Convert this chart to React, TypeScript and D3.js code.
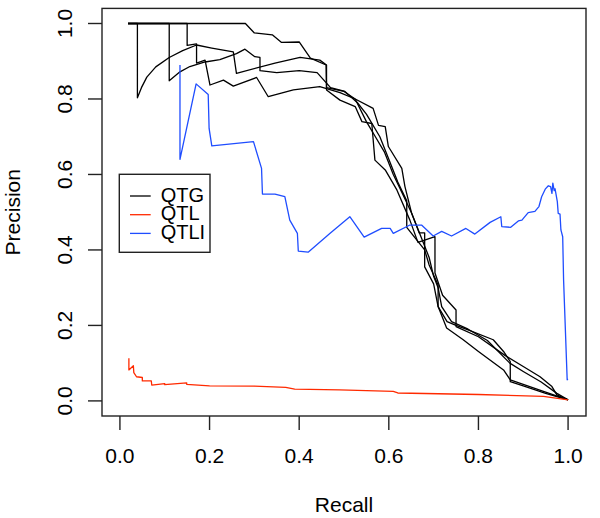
import React from "react";
import * as d3 from "d3";

type Pt = [number, number];

// QTG folds (recall, precision)
const qtg1: Pt[] = [
  [0.018, 1], [0.28, 1], [0.30, 0.975], [0.34, 0.97], [0.36, 0.95], [0.40, 0.951],
  [0.425, 0.908], [0.46, 0.89], [0.461, 0.83], [0.50, 0.82], [0.525, 0.80], [0.565, 0.775],
  [0.577, 0.73], [0.592, 0.727], [0.599, 0.674], [0.629, 0.616], [0.636, 0.568], [0.651, 0.497],
  [0.668, 0.445], [0.68, 0.445], [0.68, 0.355], [0.70, 0.31], [0.71, 0.25], [0.73, 0.21],
  [0.75, 0.20], [0.777, 0.188], [0.833, 0.162], [0.856, 0.131], [0.871, 0.104], [0.871, 0.051],
  [0.90, 0.04], [0.95, 0.02], [1.0, 0.003],
];
const qtg2: Pt[] = [
  [0.018, 1], [0.039, 1], [0.039, 0.803], [0.048, 0.83], [0.06, 0.858], [0.08, 0.885],
  [0.11, 0.91], [0.14, 0.928], [0.171, 0.943], [0.205, 0.935], [0.253, 0.925], [0.26, 0.868],
  [0.346, 0.895], [0.402, 0.91], [0.446, 0.903], [0.461, 0.89], [0.461, 0.824], [0.491, 0.797],
  [0.525, 0.78], [0.54, 0.74], [0.562, 0.735], [0.569, 0.638], [0.592, 0.612], [0.618, 0.559],
  [0.647, 0.479], [0.665, 0.42], [0.703, 0.435], [0.703, 0.339], [0.72, 0.28], [0.75, 0.241],
  [0.75, 0.197], [0.80, 0.17], [0.86, 0.12], [0.90, 0.091], [0.9375, 0.064], [0.964, 0.038],
  [0.975, 0.016], [1.0, 0.003],
];
const qtg3: Pt[] = [
  [0.018, 1], [0.11, 1], [0.11, 0.848], [0.134, 0.872], [0.156, 0.886], [0.19, 0.898],
  [0.223, 0.904], [0.26, 0.92], [0.279, 0.932], [0.301, 0.912], [0.3125, 0.91], [0.3125, 0.875],
  [0.35, 0.87], [0.40, 0.875], [0.44, 0.87], [0.47, 0.83], [0.502, 0.82], [0.53, 0.79],
  [0.55, 0.76], [0.58, 0.70], [0.60, 0.64], [0.62, 0.58], [0.64, 0.53], [0.64, 0.46],
  [0.66, 0.43], [0.68, 0.40], [0.69, 0.36], [0.71, 0.307], [0.71, 0.25], [0.729, 0.193],
  [0.766, 0.162], [0.80, 0.131], [0.856, 0.082], [0.871, 0.056], [0.945, 0.025], [1.0, 0.003],
];
const qtg4: Pt[] = [
  [0.018, 1], [0.15, 1], [0.15, 0.942], [0.171, 0.946], [0.171, 0.895], [0.19, 0.903],
  [0.201, 0.837], [0.231, 0.85], [0.253, 0.834], [0.305, 0.857], [0.331, 0.806], [0.387, 0.824],
  [0.446, 0.833], [0.491, 0.817], [0.525, 0.80], [0.55, 0.74], [0.57, 0.70], [0.59, 0.66],
  [0.61, 0.60], [0.63, 0.55], [0.65, 0.50], [0.67, 0.44], [0.69, 0.38], [0.70, 0.33],
  [0.71, 0.30], [0.718, 0.25], [0.74, 0.21], [0.777, 0.19], [0.82, 0.16], [0.87, 0.10],
  [0.90, 0.078], [0.94, 0.05], [0.975, 0.02], [1.0, 0.003],
];
const qtgSeries: Pt[][] = [qtg1, qtg2, qtg3, qtg4];

const qtl: Pt[] = [
  [0.02, 0.113], [0.02, 0.082], [0.03, 0.093], [0.031, 0.075], [0.037, 0.064], [0.05, 0.062],
  [0.05, 0.053], [0.07, 0.053], [0.071, 0.042], [0.10, 0.046], [0.10, 0.043], [0.149, 0.048],
  [0.149, 0.044], [0.20, 0.040], [0.30, 0.039], [0.37, 0.036], [0.39, 0.031], [0.49, 0.029],
  [0.61, 0.025], [0.62, 0.021], [0.80, 0.017], [0.945, 0.012], [1.0, 0.003],
];

const qtli: Pt[] = [
  [0.134, 0.89], [0.134, 0.64], [0.17, 0.84], [0.197, 0.812], [0.199, 0.722], [0.205, 0.676],
  [0.298, 0.687], [0.316, 0.616], [0.318, 0.548], [0.346, 0.548], [0.368, 0.541], [0.379, 0.479],
  [0.396, 0.444], [0.398, 0.397], [0.42, 0.394], [0.469, 0.444], [0.513, 0.488], [0.545, 0.434],
  [0.584, 0.457], [0.603, 0.457], [0.61, 0.444], [0.647, 0.466], [0.673, 0.466], [0.699, 0.437],
  [0.718, 0.449], [0.74, 0.437], [0.772, 0.457], [0.792, 0.442], [0.826, 0.473], [0.85, 0.488],
  [0.852, 0.462], [0.872, 0.46], [0.889, 0.477], [0.897, 0.479], [0.911, 0.499], [0.926, 0.502],
  [0.935, 0.515], [0.941, 0.541], [0.949, 0.561], [0.956, 0.57], [0.961, 0.568], [0.964, 0.55],
  [0.966, 0.577], [0.969, 0.557], [0.971, 0.562], [0.976, 0.528], [0.978, 0.497], [0.982, 0.495],
  [0.984, 0.453], [0.988, 0.435], [0.99, 0.32], [0.998, 0.056], [1.0, 0.057],
];

const xTicks = [0, 0.2, 0.4, 0.6, 0.8, 1.0];
const yTicks = [0, 0.2, 0.4, 0.6, 0.8, 1.0];
const legendLabels = ["QTG", "QTL", "QTLI"];
const legendColors = ["#000000", "#ff2a00", "#1f4dff"];

export default function App() {
  const W = 600, H = 518;
  const left = 102, right = 586, top = 8.4, bottom = 416;
  const x = d3.scaleLinear().domain([-0.04, 1.04]).range([left, right]);
  const y = d3.scaleLinear().domain([-0.04, 1.04]).range([bottom, top]);
  const line = d3.line<Pt>().x((d) => x(d[0])).y((d) => y(d[1]));
  const font = "'Liberation Sans', Arial, Helvetica, sans-serif";
  const fs = 21;

  return (
    <svg width={W} height={H} style={{ position: "absolute", left: 0, top: 0, background: "#fff" }}
      fontFamily={font}>
      <rect x={0} y={0} width={W} height={H} fill="#fff" />
      <g fill="none" strokeLinejoin="round" strokeWidth={1.3}>
        {qtgSeries.map((s, i) => (
          <path key={i} d={line(s) || ""} stroke="#000" />
        ))}
        <path d={line(qtl) || ""} stroke={legendColors[1]} />
        <path d={line(qtli) || ""} stroke={legendColors[2]} />
      </g>
      <rect x={left} y={top} width={right - left} height={bottom - top} fill="none" stroke="#222" strokeWidth={1.4} />
      <g>
        {xTicks.map((t) => (
          <g key={t}>
            <line x1={x(t)} x2={x(t)} y1={bottom} y2={bottom + 14} stroke="#222" strokeWidth={1.4} />
            <text x={x(t)} y={463} textAnchor="middle" fontSize={fs} fill="#000">{t.toFixed(1)}</text>
          </g>
        ))}
      </g>
      <g>
        {yTicks.map((t) => (
          <g key={t}>
            <line x1={left - 14} x2={left} y1={y(t)} y2={y(t)} stroke="#222" strokeWidth={1.4} />
            <text transform={`translate(72,${y(t)}) rotate(-90)`} textAnchor="middle" fontSize={fs} fill="#000">
              {t.toFixed(1)}
            </text>
          </g>
        ))}
      </g>
      <text x={(left + right) / 2} y={512} textAnchor="middle" fontSize={fs} fill="#000">Recall</text>
      <text transform={`translate(20,${(top + bottom) / 2}) rotate(-90)`} textAnchor="middle" fontSize={fs} fill="#000">
        Precision
      </text>
      <g>
        <rect x={119.3} y={174.3} width={90.7} height={78} fill="#fff" stroke="#222" strokeWidth={1.4} />
        {legendLabels.map((l, i) => (
          <g key={l}>
            <line x1={130} x2={150.7} y1={196 + i * 18.7} y2={196 + i * 18.7} stroke={legendColors[i]} strokeWidth={1.3} />
            <text x={160.7} y={201.7 + i * 18.7} fontSize={20} fill="#000">{l}</text>
          </g>
        ))}
      </g>
    </svg>
  );
}
